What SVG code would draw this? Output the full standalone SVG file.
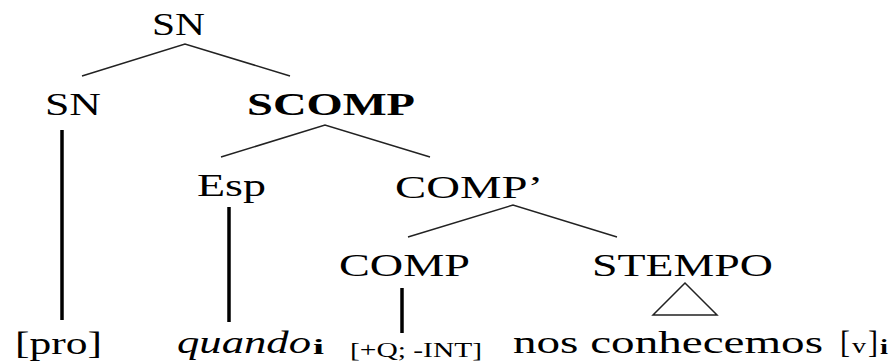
<svg xmlns="http://www.w3.org/2000/svg" width="892" height="362" viewBox="0 0 892 362" font-family="'Liberation Serif', 'Times New Roman', Times, 'DejaVu Serif', serif">
<style>
text{font-family:'Liberation Serif','Times New Roman',Times,'DejaVu Serif',serif;fill:#000;font-size:32px}
.b{font-weight:bold}
.it{font-style:italic}
.sm{font-size:20px}
.thin{stroke:#222;stroke-width:1.5;fill:none}
.thick{stroke:#000;stroke-width:3.5;fill:none}
</style>
<rect width="892" height="362" fill="#fff"/>
<g id="connectors">
<polyline class="thin" points="82,76 185,44 290,76"/>
<polyline class="thin" points="221,157 325,125 430,157"/>
<polyline class="thin" points="408,237 513,205 617,237"/>
<line class="thick" x1="62" y1="130" x2="62" y2="320"/>
<line class="thick" x1="229" y1="207" x2="229" y2="322"/>
<line class="thick" x1="402" y1="288" x2="402" y2="333"/>
<polygon class="thin" points="685,283 653,315 717,315"/>
</g>
<g id="sn-root"><text x="152" y="35" textLength="53" lengthAdjust="spacingAndGlyphs">SN</text></g>
<g id="sn"><text x="45" y="115" textLength="56" lengthAdjust="spacingAndGlyphs">SN</text></g>
<g id="scomp"><text class="b" x="247" y="115" textLength="168" lengthAdjust="spacingAndGlyphs">SCOMP</text></g>
<g id="esp"><text x="197" y="196" textLength="69" lengthAdjust="spacingAndGlyphs">Esp</text></g>
<g id="compbar"><text x="395" y="198" textLength="148" lengthAdjust="spacingAndGlyphs">COMP’</text></g>
<g id="comp"><text x="339" y="276" textLength="131" lengthAdjust="spacingAndGlyphs">COMP</text></g>
<g id="stempo"><text x="592" y="276" textLength="181" lengthAdjust="spacingAndGlyphs">STEMPO</text></g>
<g id="pro"><text x="15" y="354" textLength="87" lengthAdjust="spacingAndGlyphs">[pro]</text></g>
<g id="quando"><text class="it" x="177" y="353" textLength="134" lengthAdjust="spacingAndGlyphs">quando</text><text class="b sm" x="313" y="354" textLength="11" lengthAdjust="spacingAndGlyphs">i</text></g>
<g id="features"><text class="sm" x="350" y="357" textLength="132" lengthAdjust="spacingAndGlyphs">[+Q; -INT]</text></g>
<g id="nos"><text x="513" y="353" textLength="310" lengthAdjust="spacingAndGlyphs">nos conhecemos</text><text x="840" y="353" textLength="10" lengthAdjust="spacingAndGlyphs">[</text><text class="sm" x="852" y="353" textLength="14" lengthAdjust="spacingAndGlyphs">v</text><text x="868" y="353" textLength="10" lengthAdjust="spacingAndGlyphs">]</text><text class="b sm" x="880" y="354" textLength="8" lengthAdjust="spacingAndGlyphs">i</text></g>
</svg>
